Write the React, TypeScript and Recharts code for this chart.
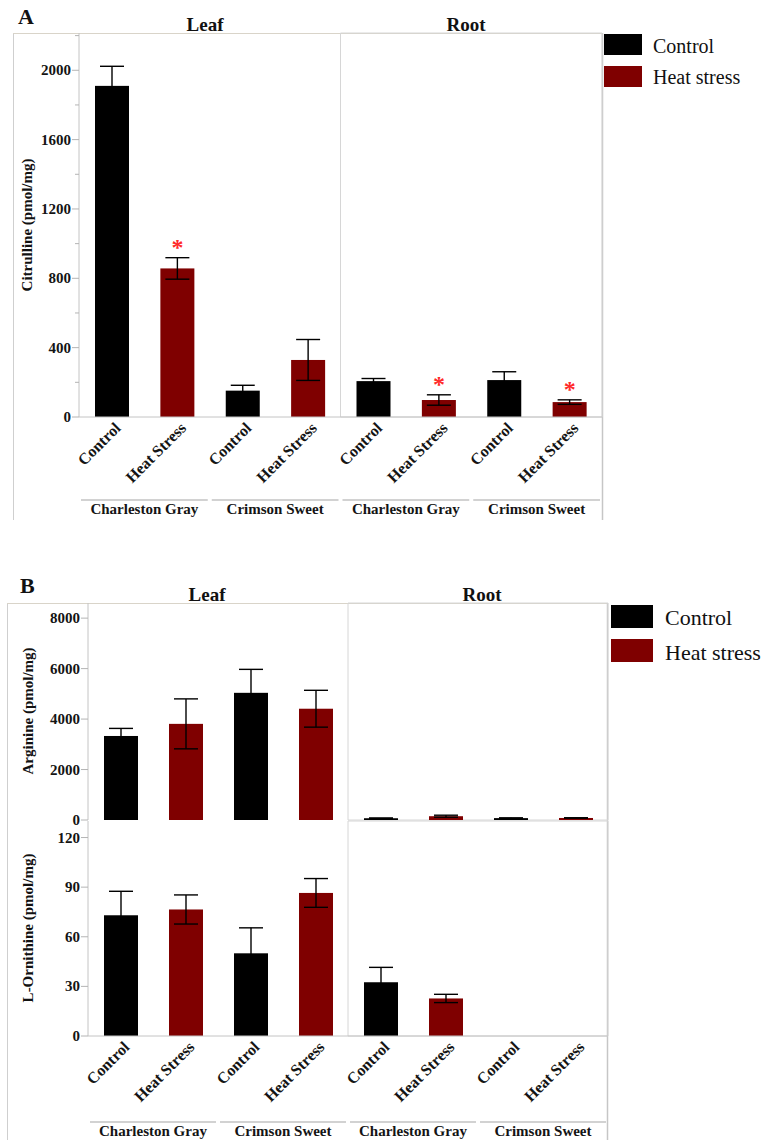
import React from "react";
import { BarChart, Bar, XAxis, YAxis, ErrorBar, ReferenceArea } from "recharts";

const FONT = "'Liberation Serif', 'Times New Roman', Times, serif";

const tissues = ["Leaf", "Root"];
const cultivars = ["Charleston Gray", "Crimson Sweet"];
const treatments = ["Control", "Heat Stress"];
const legendLabels = ["Control", "Heat stress"];
const treatmentColors = ["#000000", "#7f0000"];

// Group order: Leaf/Charleston Gray, Leaf/Crimson Sweet, Root/Charleston Gray, Root/Crimson Sweet
const citrullineControl = [1910, 152, 207, 213];
const citrullineControlErr = [113, 31, 15, 48];
const citrullineHeat = [857, 329, 98, 86];
const citrullineHeatErr = [62, 118, 30, 13];
const citrullineSignificant = [true, false, true, true];

const arginineControl = [3330, 5040, 70, 75];
const arginineControlErr = [300, 930, 10, 10];
const arginineHeat = [3810, 4410, 150, 80];
const arginineHeatErr = [990, 730, 40, 10];

const ornithineControl = [73, 50, 32.5, null];
const ornithineControlErr = [14.5, 15.4, 9, null];
const ornithineHeat = [76.5, 86.5, 22.7, null];
const ornithineHeatErr = [8.8, 8.7, 2.5, null];

const citrullineTicks = [0, 200, 400, 600, 800, 1000, 1200, 1400, 1600, 1800, 2000, 2200];
const arginineTicks = [0, 2000, 4000, 6000, 8000];
const ornithineTicks = [0, 30, 60, 90, 120];

type Row = {
  id: string;
  tissue: string;
  cultivar: string;
  k: number;
  value: number | null;
  err: number | null;
  star: boolean;
};

function buildRows(
  ctrl: (number | null)[],
  ctrlErr: (number | null)[],
  heat: (number | null)[],
  heatErr: (number | null)[],
  sig?: boolean[]
): Row[] {
  const rows: Row[] = [];
  tissues.forEach((tissue, t) => {
    cultivars.forEach((cultivar, c) => {
      const g = t * 2 + c;
      const series: [(number | null)[], (number | null)[]][] = [
        [ctrl, ctrlErr],
        [heat, heatErr],
      ];
      series.forEach(([vals, errs], k) => {
        rows.push({
          id: `${tissue}|${cultivar}|${treatments[k]}`,
          tissue,
          cultivar,
          k,
          value: vals[g],
          err: errs[g],
          star: k === 1 && !!sig && sig[g],
        });
      });
    });
  });
  return rows;
}

const citrullineRows = buildRows(citrullineControl, citrullineControlErr, citrullineHeat, citrullineHeatErr, citrullineSignificant);
const arginineRows = buildRows(arginineControl, arginineControlErr, arginineHeat, arginineHeatErr);
const ornithineRows = buildRows(ornithineControl, ornithineControlErr, ornithineHeat, ornithineHeatErr);

// Bar rectangle plus a red significance asterisk above the error bar
const BarShape = (props: any) => {
  const { x, y, width, height, payload } = props;
  if (!payload || payload.value == null || !height) return <g />;
  const fill = treatmentColors[payload.k];
  const pxPerUnit = height / payload.value;
  const errTop = y - (payload.err || 0) * pxPerUnit;
  return (
    <g>
      <rect x={x} y={y} width={width} height={height} fill={fill} />
      {payload.star && (
        <text
          x={x + width / 2}
          y={errTop - 3}
          textAnchor="middle"
          fontFamily={FONT}
          fontWeight="bold"
          fontSize={24}
          fill="#ff2a2a"
        >
          *
        </text>
      )}
    </g>
  );
};

const YTick = (props: any) => {
  const { x, y, payload, labelStep } = props;
  const v = payload.value;
  const major = v % labelStep === 0;
  return (
    <g>
      <line x1={x - (major ? 7 : 4)} x2={x} y1={y} y2={y} stroke="#b4b4b4" strokeWidth={1} />
      {major && (
        <text
          x={x - 8}
          y={y}
          dy="0.34em"
          textAnchor="end"
          fontFamily={FONT}
          fontWeight="bold"
          fontSize={15}
          fill="#141414"
        >
          {v}
        </text>
      )}
    </g>
  );
};

const TreatmentTick = (props: any) => {
  const { x, y, payload } = props;
  const label = String(payload.value).split("|")[2];
  const ax = x + 10;
  const ay = y + 12;
  return (
    <text
      x={ax}
      y={ay}
      transform={`rotate(-45 ${ax} ${ay})`}
      textAnchor="end"
      fontFamily={FONT}
      fontWeight="bold"
      fontSize={16}
      fill="#141414"
    >
      {label}
    </text>
  );
};

const makeGroupTick = (band: number) => (props: any) => {
  const { x, y, payload, index } = props;
  if (index % 2 !== 0) return <g />;
  const cultivar = String(payload.value).split("|")[1];
  return (
    <g>
      <line x1={x - band / 2 + 2} x2={x + band * 1.5 - 2} y1={y + 5} y2={y + 5} stroke="#d2d2d2" strokeWidth={2} />
      <text
        x={x + band / 2}
        y={y + 19}
        textAnchor="middle"
        fontFamily={FONT}
        fontWeight="bold"
        fontSize={15}
        fill="#141414"
      >
        {cultivar}
      </text>
    </g>
  );
};

type PanelProps = {
  rows: Row[];
  top: number;
  height: number;
  marginTop: number;
  marginBottom?: number;
  marginLeft: number;
  marginRight: number;
  yAxisWidth: number;
  yDomain: [number, number];
  yTicks: number[];
  labelStep: number;
  showX: boolean;
  xLabelHeight?: number;
  groupHeight?: number;
};

const CHART_W = 767;

function Panel(p: PanelProps) {
  const plotW = CHART_W - p.marginLeft - p.yAxisWidth - p.marginRight;
  const band = plotW / p.rows.length;
  const rootIds = p.rows.filter((r) => r.tissue === "Root").map((r) => r.id);
  return (
    <div style={{ position: "absolute", left: 0, top: p.top }}>
      <BarChart
        width={CHART_W}
        height={p.height}
        data={p.rows}
        margin={{ top: p.marginTop, right: p.marginRight, bottom: p.marginBottom || 0, left: p.marginLeft }}
        barSize={34}
      >
        {p.showX ? (
          <XAxis
            dataKey="id"
            type="category"
            interval={0}
            height={p.xLabelHeight}
            tickSize={0}
            tickMargin={0}
            axisLine={{ stroke: "#c4c4c4" }}
            tickLine={false}
            tick={TreatmentTick}
          />
        ) : (
          <XAxis
            dataKey="id"
            type="category"
            height={0}
            tick={false}
            tickLine={false}
            axisLine={{ stroke: "#c4c4c4" }}
          />
        )}
        {p.showX && (
          <XAxis
            xAxisId="grp"
            dataKey="id"
            type="category"
            interval={0}
            height={p.groupHeight}
            tickSize={0}
            tickMargin={0}
            axisLine={false}
            tickLine={false}
            tick={makeGroupTick(band)}
          />
        )}
        <YAxis
          width={p.yAxisWidth}
          domain={p.yDomain}
          ticks={p.yTicks}
          interval={0}
          allowDataOverflow
          tickSize={0}
          tickMargin={0}
          tickLine={false}
          axisLine={{ stroke: "#c4c4c4" }}
          tick={(tp: any) => <YTick {...tp} labelStep={p.labelStep} />}
        />
        <ReferenceArea
          x1={rootIds[0]}
          x2={rootIds[rootIds.length - 1]}
          fill="none"
          stroke="#d6d6d6"
          strokeWidth={1}
        />
        <Bar dataKey="value" isAnimationActive={false} shape={BarShape}>
          <ErrorBar dataKey="err" width={12} stroke="#000000" strokeWidth={1.4} />
        </Bar>
      </BarChart>
    </div>
  );
}

const titleStyle = { fontFamily: FONT, fontWeight: "bold" as const, fill: "#111" };

function Overlay() {
  return (
    <svg
      width={767}
      height={1140}
      style={{ position: "absolute", left: 0, top: 0 }}
    >
      {/* frame of panel A */}
      <line x1={13.5} x2={13.5} y1={33} y2={520} stroke="#cfcfcf" />
      <line x1={13} x2={603} y1={33.5} y2={33.5} stroke="#d9d4c9" />
      <line x1={602.5} x2={602.5} y1={33} y2={520} stroke="#c6c6c6" strokeWidth={1.5} />
      {/* frame of panel B */}
      <line x1={7.5} x2={7.5} y1={603} y2={1140} stroke="#cfcfcf" />
      <line x1={7} x2={608} y1={603.5} y2={603.5} stroke="#d9d4c9" />
      <line x1={607.5} x2={607.5} y1={603} y2={1140} stroke="#c6c6c6" strokeWidth={1.5} />

      <text x={18} y={24} fontSize={22} {...titleStyle}>A</text>
      <text x={20} y={593} fontSize={22} {...titleStyle}>B</text>

      <text x={205} y={31} fontSize={19} textAnchor="middle" {...titleStyle}>{tissues[0]}</text>
      <text x={466} y={31} fontSize={19} textAnchor="middle" {...titleStyle}>{tissues[1]}</text>
      <text x={207} y={601} fontSize={19} textAnchor="middle" {...titleStyle}>{tissues[0]}</text>
      <text x={482} y={601} fontSize={19} textAnchor="middle" {...titleStyle}>{tissues[1]}</text>

      <text x={27} y={225} fontSize={15} textAnchor="middle" dominantBaseline="central"
        transform="rotate(-90 27 225)" {...titleStyle}>Citrulline (pmol/mg)</text>
      <text x={28} y={711} fontSize={15} textAnchor="middle" dominantBaseline="central"
        transform="rotate(-90 28 711)" {...titleStyle}>Arginine (pmol/mg)</text>
      <text x={28} y={928} fontSize={15} textAnchor="middle" dominantBaseline="central"
        transform="rotate(-90 28 928)" {...titleStyle}>L-Ornithine (pmol/mg)</text>

      {/* legends */}
      <rect x={604} y={34} width={38} height={21} fill={treatmentColors[0]} />
      <rect x={604} y={66} width={38} height={21} fill={treatmentColors[1]} />
      <text x={653} y={53} fontFamily={FONT} fontSize={20} fill="#111">{legendLabels[0]}</text>
      <text x={653} y={83.5} fontFamily={FONT} fontSize={20} fill="#111">{legendLabels[1]}</text>

      <rect x={611} y={605} width={42} height={23} fill={treatmentColors[0]} />
      <rect x={611} y={639} width={42} height={23} fill={treatmentColors[1]} />
      <text x={665} y={625} fontFamily={FONT} fontSize={22} fill="#111">{legendLabels[0]}</text>
      <text x={665} y={660} fontFamily={FONT} fontSize={22} fill="#111">{legendLabels[1]}</text>
    </svg>
  );
}

export default function App() {
  return (
    <div style={{ position: "absolute", left: 0, top: 0, width: 767, height: 1140, background: "#fff", overflow: "hidden" }}>
      <Overlay />
      <Panel
        rows={ornithineRows}
        top={820}
        height={320}
        marginTop={1}
        marginLeft={7}
        marginRight={159}
        yAxisWidth={81}
        yDomain={[0, 130]}
        yTicks={ornithineTicks}
        labelStep={30}
        showX
        xLabelHeight={81}
        groupHeight={23}
      />
      <Panel
        rows={arginineRows}
        top={560}
        height={272}
        marginTop={43}
        marginBottom={12}
        marginLeft={7}
        marginRight={159}
        yAxisWidth={81}
        yDomain={[0, 8600]}
        yTicks={arginineTicks}
        labelStep={2000}
        showX={false}
      />
      <Panel
        rows={citrullineRows}
        top={0}
        height={520}
        marginTop={33}
        marginLeft={13}
        marginRight={165}
        yAxisWidth={66}
        yDomain={[0, 2215]}
        yTicks={citrullineTicks}
        labelStep={400}
        showX
        xLabelHeight={78}
        groupHeight={25}
      />
    </div>
  );
}
